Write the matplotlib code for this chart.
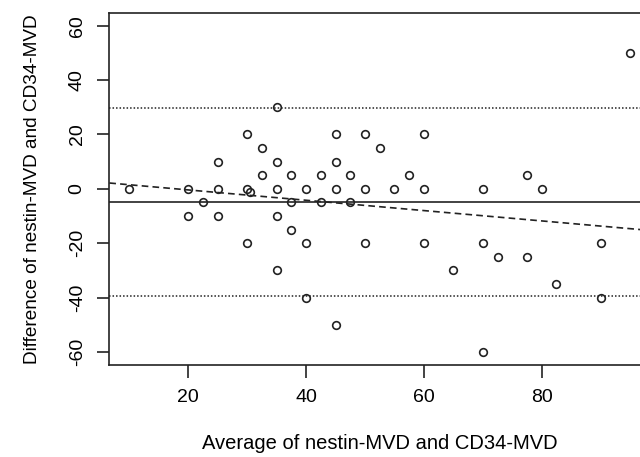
import numpy as np
import matplotlib
matplotlib.use("Agg")
import matplotlib.pyplot as plt

# average of the two MVD counts and their difference
avg_mvd = [10, 20, 20, 22.5, 25, 25, 25, 30, 30, 30.5, 30, 32.5, 32.5,
           35, 35, 35, 35, 35, 37.5, 37.5, 37.5, 40, 40, 40, 42.5, 42.5,
           45, 45, 45, 45, 47.5, 47.5, 50, 50, 50, 52.5, 55, 57.5, 60, 60,
           60, 65, 70, 70, 70, 72.5, 77.5, 77.5, 80, 82.5, 90, 90, 95]
diff_mvd = [0, 0, -10, -5, 10, 0, -10, 20, 0, -1, -20, 15, 5,
            30, 10, 0, -10, -30, 5, -5, -15, 0, -20, -40, 5, -5,
            20, 10, 0, -50, 5, -5, 20, 0, -20, 15, 0, 5, 20, 0,
            -20, -30, 0, -20, -60, -25, 5, -25, 0, -35, -20, -40, 50]

mean_diff = -4.9
loa_half = 34.6          # 1.96 * SD
reg_intercept = 3.4
reg_slope = -0.19

xticks = [20, 40, 60, 80]
yticks = [-60, -40, -20, 0, 20, 40, 60]

plt.rcParams['font.family'] = ['Liberation Sans', 'DejaVu Sans']
ink = '#222222'
txt = '#000000'

fig = plt.figure(figsize=(6.4, 4.57), dpi=100)
ax = fig.add_axes([0.1708, 0.2013, 0.845, 0.771])

ax.plot(avg_mvd, diff_mvd, 'o', mfc='none', mec=ink, ms=5.5, mew=1.2, zorder=3)

xlim = (6.6, 98.4)
ax.set_xlim(*xlim)
ax.set_ylim(-64.8, 64.8)

ax.axhline(mean_diff, color=ink, lw=1.2)
ax.axhline(mean_diff + loa_half, color=ink, lw=1.1, dashes=(1, 1.3))
ax.axhline(mean_diff - loa_half, color=ink, lw=1.1, dashes=(1, 1.3))

xs = np.array(xlim)
ax.plot(xs, reg_intercept + reg_slope * xs, color=ink, lw=1.2, dashes=(4, 2.5))

ax.set_xticks(xticks)
ax.set_yticks(yticks)
ax.set_yticklabels([str(v) for v in yticks], rotation=90, va='center')
ax.tick_params(direction='out', length=9, width=1.2, color=ink,
               labelsize=14, labelcolor=txt, pad=8)

for s in ax.spines.values():
    s.set_linewidth(1.2)
    s.set_color(ink)

ax.set_xlabel('Average of nestin-MVD and CD34-MVD', fontsize=14.5, color=txt)
ax.set_ylabel('Difference of nestin-MVD and CD34-MVD', fontsize=13.7, color=txt)
ax.xaxis.set_label_coords(0.5, -0.196)
ax.yaxis.set_label_coords(-0.126, 0.5)

fig.savefig('out.png', dpi=100)
